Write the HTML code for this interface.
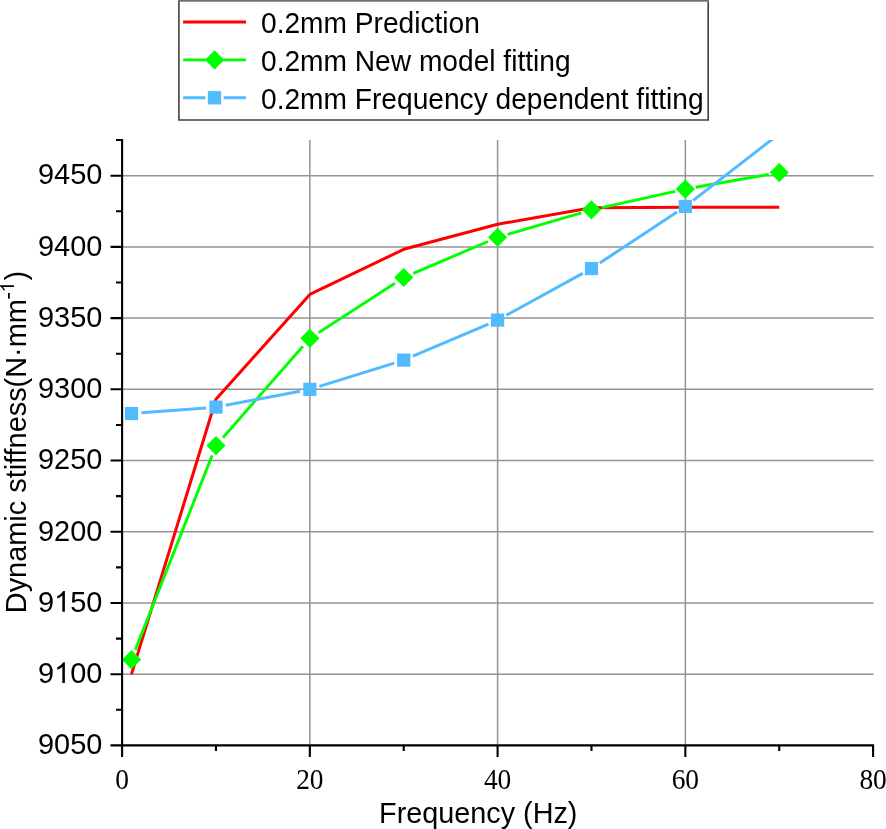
<!DOCTYPE html><html><head><meta charset="utf-8"><title>Dynamic stiffness vs frequency</title><style>html,body{margin:0;padding:0;background:#fff;overflow:hidden;}svg{display:block;will-change:transform;}text{font-family:"Liberation Sans",sans-serif;fill:#000;}</style></head><body>
<svg width="886" height="829" viewBox="0 0 886 829">
<rect width="886" height="829" fill="#fff"/>
<path d="M123,674.18H873.5M123,602.97H873.5M123,531.75H873.5M123,460.54H873.5M123,389.32H873.5M123,318.11H873.5M123,246.90H873.5M123,175.68H873.5M309.85,140V744.5M497.60,140V744.5M685.35,140V744.5" stroke="#949494" stroke-width="1.5" fill="none"/>
<g>
<polyline points="131.49,674.18 215.97,399.30 309.85,294.47 403.73,249.32 497.60,224.25 591.47,207.73 685.35,207.30 779.23,207.30" fill="none" stroke="#ff0000" stroke-width="3.0" stroke-linejoin="round"/>
<path d="M135.34,649.89L212.12,455.35M222.89,437.68L302.93,346.24M318.66,332.63L394.91,283.23M413.38,273.39L487.95,241.48M507.68,234.40L581.40,212.81M601.73,207.59L675.10,191.34M695.69,187.25L768.88,174.37" fill="none" stroke="#00ff00" stroke-width="2.9"/>
<path d="M131.49,650.06L141.09,659.66L131.49,669.26L121.89,659.66Z" fill="#00ff00"/>
<path d="M215.97,435.98L225.57,445.58L215.97,455.18L206.38,445.58Z" fill="#00ff00"/>
<path d="M309.85,328.74L319.45,338.34L309.85,347.94L300.25,338.34Z" fill="#00ff00"/>
<path d="M403.73,267.92L413.33,277.52L403.73,287.12L394.12,277.52Z" fill="#00ff00"/>
<path d="M497.60,227.75L507.20,237.35L497.60,246.95L488.00,237.35Z" fill="#00ff00"/>
<path d="M591.47,200.26L601.07,209.86L591.47,219.46L581.87,209.86Z" fill="#00ff00"/>
<path d="M685.35,179.47L694.95,189.07L685.35,198.67L675.75,189.07Z" fill="#00ff00"/>
<path d="M779.23,162.95L788.83,172.55L779.23,182.15L769.62,172.55Z" fill="#00ff00"/>
<path d="M141.46,412.78L206.00,407.89M225.80,405.27L300.03,391.19M319.40,386.36L394.18,363.10M412.92,356.20L488.40,324.03M506.36,315.29L582.71,273.36M599.82,263.03L677.01,211.96" fill="none" stroke="#50bbfe" stroke-width="3.0"/>
<path d="M694.18,201.51L692.34,199.14L768.77,140.00L773.67,140.00Z" fill="#50bbfe"/>
<rect x="124.89" y="406.94" width="13.20" height="13.20" fill="#50bbfe"/>
<rect x="209.38" y="400.53" width="13.20" height="13.20" fill="#50bbfe"/>
<rect x="303.25" y="382.72" width="13.20" height="13.20" fill="#50bbfe"/>
<rect x="397.12" y="353.53" width="13.20" height="13.20" fill="#50bbfe"/>
<rect x="491.00" y="313.50" width="13.20" height="13.20" fill="#50bbfe"/>
<rect x="584.87" y="261.94" width="13.20" height="13.20" fill="#50bbfe"/>
<rect x="678.75" y="199.84" width="13.20" height="13.20" fill="#50bbfe"/>
</g>
<path d="M122.1,139V746.4M121.1,745.40H874.1M110.5,745.40H122M110.5,674.18H122M110.5,602.97H122M110.5,531.75H122M110.5,460.54H122M110.5,389.32H122M110.5,318.11H122M110.5,246.90H122M110.5,175.68H122M116,709.79H122M116,638.58H122M116,567.36H122M116,496.15H122M116,424.93H122M116,353.72H122M116,282.50H122M116,211.29H122M116,140.07H122M122.10,745.40V757M309.85,745.40V757M497.60,745.40V757M685.35,745.40V757M873.10,745.40V757M215.97,745.40V751M403.73,745.40V751M591.47,745.40V751M779.23,745.40V751" stroke="#000" stroke-width="2.1" fill="none"/>
<text transform="translate(102.4,754.20) scale(1,1.041)" text-anchor="end" font-size="28.95">9050</text>
<text transform="translate(102.4,682.98) scale(1,1.041)" text-anchor="end" font-size="28.95">9 00</text>
<path d="M763,0L583,0L583,1147Q518,1085 424,1024Q312,964 223,931L223,1105Q375,1176 481,1272Q591,1369 651,1466L763,1466Z" transform="translate(54.10,682.98) scale(0.01414,-0.01414)"/>
<text transform="translate(102.4,611.77) scale(1,1.041)" text-anchor="end" font-size="28.95">9 50</text>
<path d="M763,0L583,0L583,1147Q518,1085 424,1024Q312,964 223,931L223,1105Q375,1176 481,1272Q591,1369 651,1466L763,1466Z" transform="translate(54.10,611.77) scale(0.01414,-0.01414)"/>
<text transform="translate(102.4,540.55) scale(1,1.041)" text-anchor="end" font-size="28.95">9200</text>
<text transform="translate(102.4,469.34) scale(1,1.041)" text-anchor="end" font-size="28.95">9250</text>
<text transform="translate(102.4,398.12) scale(1,1.041)" text-anchor="end" font-size="28.95">9300</text>
<text transform="translate(102.4,326.91) scale(1,1.041)" text-anchor="end" font-size="28.95">9350</text>
<text transform="translate(102.4,255.70) scale(1,1.041)" text-anchor="end" font-size="28.95">9400</text>
<text transform="translate(102.4,184.48) scale(1,1.041)" text-anchor="end" font-size="28.95">9450</text>
<text transform="translate(122.10,789.2) scale(0.93,1)" text-anchor="middle" style="font-family:'Liberation Serif',serif" font-size="29.5">0</text>
<text transform="translate(309.85,789.2) scale(0.93,1)" text-anchor="middle" style="font-family:'Liberation Serif',serif" font-size="29.5">20</text>
<text transform="translate(497.60,789.2) scale(0.93,1)" text-anchor="middle" style="font-family:'Liberation Serif',serif" font-size="29.5">40</text>
<text transform="translate(685.35,789.2) scale(0.93,1)" text-anchor="middle" style="font-family:'Liberation Serif',serif" font-size="29.5">60</text>
<text transform="translate(873.10,789.2) scale(0.93,1)" text-anchor="middle" style="font-family:'Liberation Serif',serif" font-size="29.5">80</text>
<text transform="translate(478.25,822.8) scale(1,1.01)" text-anchor="middle" font-size="28.8">Frequency (Hz)</text>
<text transform="translate(25.8,613.2) rotate(-90) scale(1,1.041)" font-size="28.9">Dynamic stiffness(N·mm</text>
<text transform="translate(25.8,280.5) rotate(-90) scale(1,1.041)" font-size="28.9">)</text>
<path d="M763,0L583,0L583,1147Q518,1085 424,1024Q312,964 223,931L223,1105Q375,1176 481,1272Q591,1369 651,1466L763,1466Z" transform="translate(13.9,292.4) rotate(-90) scale(0.00947,-0.00947)"/>
<path d="M8.9,293V298.6" stroke="#000" stroke-width="1.8" fill="none"/>
<rect x="178.9" y="0" width="529.3" height="120" fill="#fff"/>
<path d="M178.9,0V120.05H708.2V0" fill="none" stroke="#404040" stroke-width="1.6"/>
<path d="M178.1,0.85H709" fill="none" stroke="#707070" stroke-width="1.7"/>
<path d="M183.1,22H246" stroke="#ff0000" stroke-width="3.0"/>
<path d="M183.1,59.9H246" stroke="#00ff00" stroke-width="2.9"/>
<path d="M214.6,50.3L224.2,59.9L214.6,69.5L205,59.9Z" fill="#00ff00"/>
<path d="M183.1,97.85H205.5M223.6,97.85H246" stroke="#50bbfe" stroke-width="3.0"/>
<rect x="207.85" y="91.15" width="13.3" height="13.3" fill="#50bbfe"/>
<text transform="translate(261,33.10) scale(1,1.041)" font-size="28.15">0.2mm Prediction</text>
<text transform="translate(261,71.10) scale(1,1.041)" font-size="28.15">0.2mm New model fitting</text>
<text transform="translate(261,109.10) scale(1,1.041)" font-size="28.15">0.2mm Frequency dependent fitting</text>
</svg></body></html>
